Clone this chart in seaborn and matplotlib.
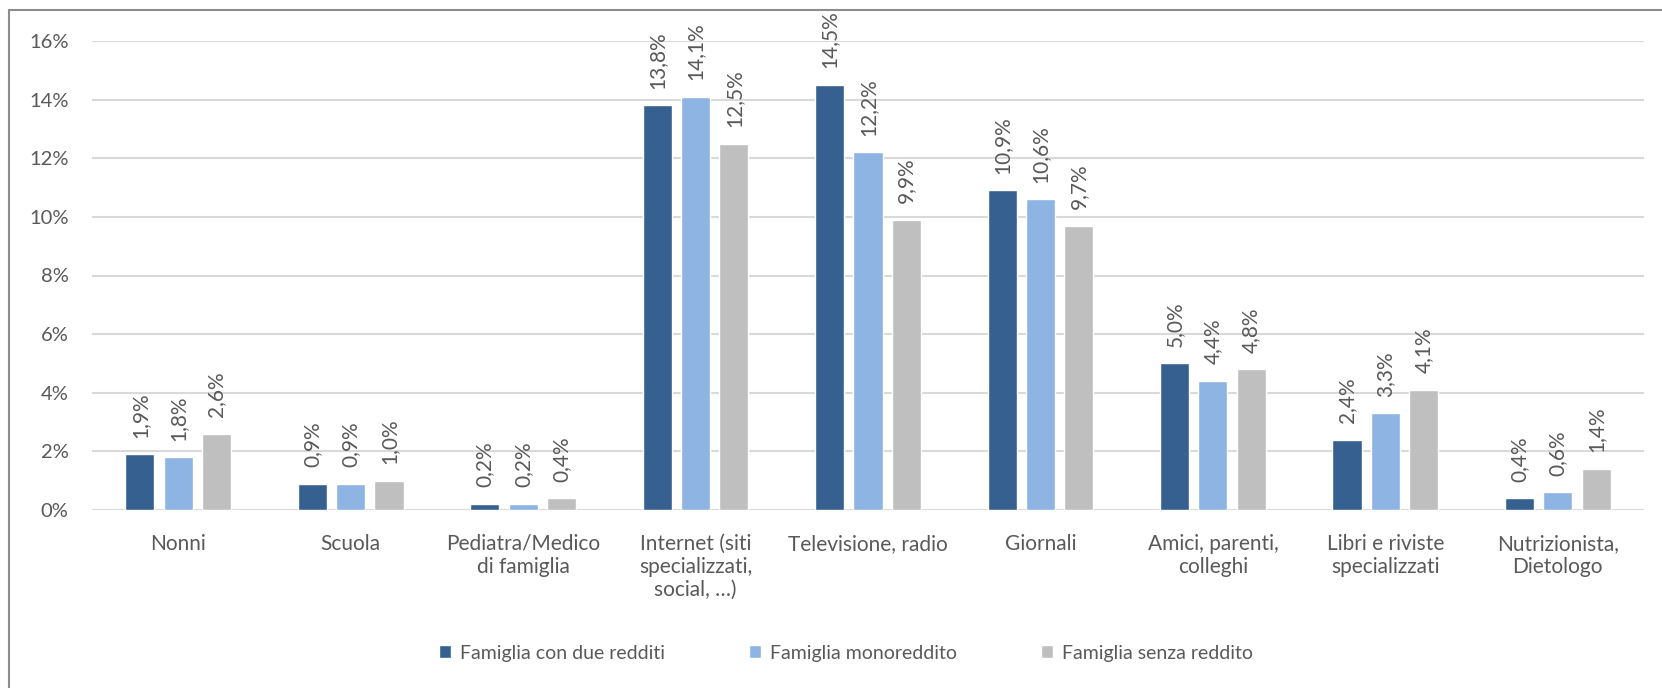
import matplotlib
matplotlib.use('Agg')
import pandas as pd
import matplotlib.pyplot as plt
import seaborn as sns
from matplotlib.lines import Line2D
from matplotlib.ticker import PercentFormatter

categories = ["Nonni", "Scuola", "Pediatra/Medico\ndi famiglia",
              "Internet (siti\nspecializzati,\nsocial, …)", "Televisione, radio",
              "Giornali", "Amici, parenti,\ncolleghi", "Libri e riviste\nspecializzati",
              "Nutrizionista,\nDietologo"]
series = ["Famiglia con due redditi", "Famiglia monoreddito", "Famiglia senza reddito"]
due_redditi = [1.9, 0.9, 0.2, 13.8, 14.5, 10.9, 5.0, 2.4, 0.4]
monoreddito = [1.8, 0.9, 0.2, 14.1, 12.2, 10.6, 4.4, 3.3, 0.6]
senza_reddito = [2.6, 1.0, 0.4, 12.5, 9.9, 9.7, 4.8, 4.1, 1.4]
colors = ["#36608F", "#8EB4E3", "#BFBFBF"]

# long format for seaborn
rows = []
for name, vals in zip(series, [due_redditi, monoreddito, senza_reddito]):
    for cat, v in zip(categories, vals):
        rows.append({"cat": cat, "serie": name, "val": v})
df = pd.DataFrame(rows)

sns.set_theme(style="white")
plt.rcParams['font.family'] = ['Lato', 'DejaVu Sans']
text_col = "#595959"

W, H = 1662, 688
fig = plt.figure(figsize=(W / 100, H / 100), dpi=100)
ax = fig.add_axes([92 / W, 1 - 510 / H, (1644 - 92) / W, (510 - 41) / H])

sns.barplot(data=df, x="cat", y="val", hue="serie", palette=colors,
            width=0.667, gap=0.24, saturation=1, ax=ax, legend=True)

ax.set_ylim(0, 16)
ax.set_xlim(-0.5, 8.5)
ax.set_yticks(range(0, 17, 2))
ax.yaxis.set_major_formatter(PercentFormatter(decimals=0))
ax.grid(axis='y', color="#D9D9D9", linewidth=1.5)
ax.set_axisbelow(True)
for s in ax.spines.values():
    s.set_visible(False)
ax.tick_params(axis='both', length=0, colors=text_col)
ax.tick_params(axis='y', pad=17, labelsize=14.5)
ax.tick_params(axis='x', pad=17, labelsize=15)
ax.set_xlabel("")
ax.set_ylabel("")

for cont, vals in zip(ax.containers, [due_redditi, monoreddito, senza_reddito]):
    labels = [f"{v:.1f}%".replace(".", ",") for v in vals]
    ax.bar_label(cont, labels=labels, rotation=90, padding=12,
                 fontsize=15, color=text_col)

handles, labels = ax.get_legend_handles_labels()
ax.legend_.remove()
fig.legend(handles, labels, loc='center', bbox_to_anchor=(846 / W, 1 - 653 / H),
           ncol=3, frameon=False, fontsize=14, labelcolor=text_col,
           handlelength=0.65, handleheight=0.65, handletextpad=0.45,
           columnspacing=4.3)

# outer frame (top and left edges only)
fig.add_artist(Line2D([9 / W, 1], [1 - 10 / H, 1 - 10 / H], color="#8C8C8C", lw=1.5))
fig.add_artist(Line2D([9 / W, 9 / W], [0, 1 - 10 / H], color="#8C8C8C", lw=1.5))

fig.savefig("out.png", dpi=100, facecolor="white")
